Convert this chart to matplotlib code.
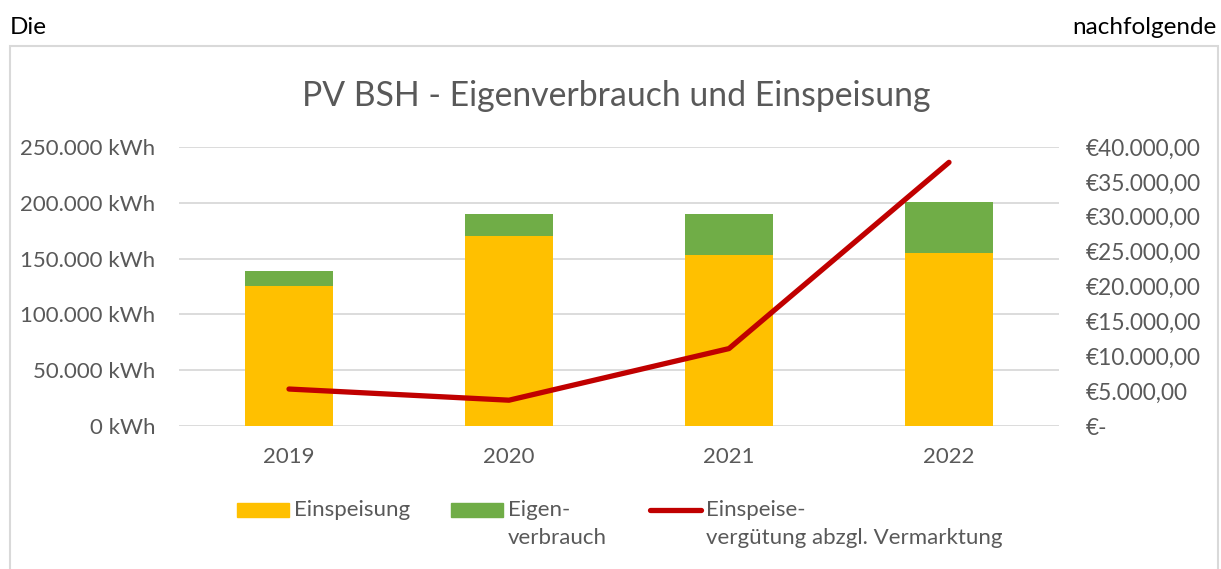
import numpy as np
import matplotlib.pyplot as plt
from matplotlib.patches import Rectangle
from matplotlib.lines import Line2D

plt.rcParams["font.family"] = ["Lato", "DejaVu Sans"]

years = ["2019", "2020", "2021", "2022"]
einspeisung = [125400, 170300, 153200, 154700]  # kWh
eigenverbrauch = [13500, 19700, 36800, 45700]  # kWh
verguetung = [5300, 3700, 11100, 37800]  # EUR

kwh_ticks = [0, 50000, 100000, 150000, 200000, 250000]
eur_ticks = [0, 5000, 10000, 15000, 20000, 25000, 30000, 35000, 40000]

YELLOW = "#FFC000"
GREEN = "#70AD47"
RED = "#C00000"
GREY = "#595959"
GRID = "#D9D9D9"

W, H = 1221, 569


def px(x, y):
    # pixel position (from top-left) -> figure fraction
    return x / W, 1 - y / H


def de_num(v):
    return f"{v:,.0f}".replace(",", ".")


def de_eur(v):
    if v == 0:
        return "€-"
    s = f"{v:,.2f}".replace(",", "X").replace(".", ",").replace("X", ".")
    return "€" + s


fig = plt.figure(figsize=(W / 100, H / 100), dpi=100)

# chart frame
x0, y0 = px(10, 590)
x1, y1 = px(1218, 46)
fig.patches.append(Rectangle((x0, y0), x1 - x0, y1 - y0, transform=fig.transFigure,
                             fill=False, edgecolor=GRID, linewidth=1.5))

# surrounding document text
fig.text(*px(10, 27), "Die", fontsize=17.5, color="black", va="center", ha="left")
fig.text(*px(1216, 27), "nachfolgende", fontsize=17.5, color="black", va="center", ha="right")

left, bottom = px(179, 426)
right, top = px(1059, 147)
ax = fig.add_axes([left, bottom, right - left, top - bottom])
ax2 = ax.twinx()

x = np.arange(len(years))
ax.bar(x, einspeisung, width=0.4, color=YELLOW, zorder=2)
ax.bar(x, eigenverbrauch, width=0.4, bottom=einspeisung, color=GREEN, zorder=2)
ax2.plot(x, verguetung, color=RED, linewidth=3.8, solid_capstyle="round", solid_joinstyle="round")

ax.set_xlim(-0.5, 3.5)
ax.set_ylim(0, 250000)
ax2.set_ylim(0, 40000)

ax.set_xticks(x)
ax.set_xticklabels(years)
ax.set_yticks(kwh_ticks)
ax.set_yticklabels([de_num(v) + " kWh" for v in kwh_ticks])
ax2.set_yticks(eur_ticks)
ax2.set_yticklabels([de_eur(v) for v in eur_ticks])

ax.yaxis.grid(True, color=GRID, linewidth=1.3, zorder=0)
ax.set_axisbelow(True)
for a in (ax, ax2):
    for s in a.spines.values():
        s.set_visible(False)
ax.tick_params(axis="both", length=0, labelsize=16, labelcolor=GREY)
ax.tick_params(axis="y", pad=17)
ax.tick_params(axis="x", pad=15)
ax2.tick_params(axis="y", length=0, labelsize=16.3, labelcolor=GREY, pad=19)

fig.text(*px(616, 96), "PV BSH - Eigenverbrauch und Einspeisung", fontsize=24.3,
         color=GREY, ha="center", va="center")

# legend
def legend_patch(xa, xb, ya, yb, color):
    xa_, yb_ = px(xa, yb)
    xb_, ya_ = px(xb, ya)
    fig.patches.append(Rectangle((xa_, yb_), xb_ - xa_, ya_ - yb_, transform=fig.transFigure,
                                 color=color))

legend_patch(237, 289, 503, 517, YELLOW)
legend_patch(451, 503, 503, 517, GREEN)
lx0, ly = px(650, 510)
lx1, _ = px(701, 510)
fig.lines.append(Line2D([lx0, lx1], [ly, ly], transform=fig.transFigure, color=RED,
                        linewidth=3.8, solid_capstyle="round"))

fs = 16
fig.text(*px(294, 510), "Einspeisung", fontsize=fs, color=GREY, va="center")
fig.text(*px(508, 510), "Eigen-", fontsize=fs, color=GREY, va="center")
fig.text(*px(508, 538), "verbrauch", fontsize=fs, color=GREY, va="center")
fig.text(*px(706, 510), "Einspeise-", fontsize=fs, color=GREY, va="center")
fig.text(*px(706, 538), "vergütung abzgl. Vermarktung", fontsize=fs, color=GREY, va="center")

fig.savefig("out.png", dpi=100)
